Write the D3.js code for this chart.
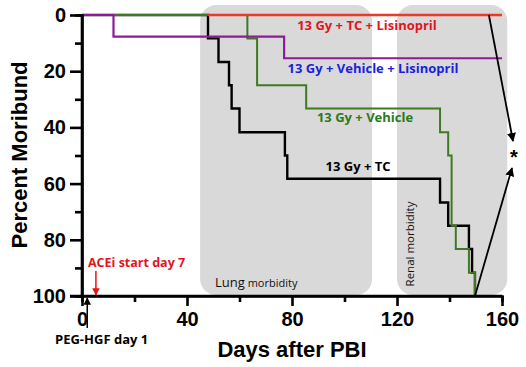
<!DOCTYPE html>
<html>
<head>
<meta charset="utf-8">
<script src="https://cdn.jsdelivr.net/npm/d3@7"></script>
<style>
  body { margin: 0; background: #fff; }
  svg { display: block; font-family: "Liberation Sans", Arial, sans-serif; }
</style>
</head>
<body>
<svg width="526" height="367"></svg>
<script>
// step curves: [day, percent moribund]
const tcLisinopril = [[48, 0], [160, 0]];
const vehicleLisinopril = [[0, 0], [12, 0], [12, 7.7], [77, 7.7], [77, 15.4], [160, 15.4]];
const vehicle = [[0, 0], [63, 0], [63, 8.33], [66.7, 8.33], [66.7, 25], [85.4, 25], [85.4, 33.3],
  [136.4, 33.3], [136.4, 41.7], [139.5, 41.7], [139.5, 50], [140.8, 50], [140.8, 75],
  [142.4, 75], [142.4, 83.3], [147.4, 83.3], [147.4, 91.7], [149.7, 91.7], [149.7, 100]];
const tc = [[0, 0], [48, 0], [48, 8.33], [52, 8.33], [52, 16.7], [56, 16.7], [56, 25], [57, 25], [57, 33.3],
  [60, 33.3], [60, 41.7], [77.3, 41.7], [77.3, 50], [78.2, 50], [78.2, 58.3], [136.4, 58.3], [136.4, 66.7],
  [139.5, 66.7], [139.5, 75], [147.4, 75], [147.4, 83.3], [148.6, 83.3], [148.6, 91.7], [149.7, 91.7], [149.7, 100]];

const xTicks = [0, 40, 80, 120, 160];
const xMinor = [20, 60, 100, 140];
const yTicks = [0, 20, 40, 60, 80, 100];
const yMinor = [10, 30, 50, 70, 90];

const zones = [
  {name: 'lung', from: 45, to: 110.5},
  {name: 'renal', from: 120, to: 162}
];

const svg = d3.select('svg');
const x = d3.scaleLinear().domain([0, 160]).range([82, 502]);
const y = d3.scaleLinear().domain([0, 100]).range([15, 296]);

// gray morbidity windows
svg.selectAll('rect.zone').data(zones).enter().append('rect')
  .attr('class', 'zone')
  .attr('x', d => x(d.from))
  .attr('width', d => x(d.to) - x(d.from))
  .attr('y', 5)
  .attr('height', 290)
  .attr('rx', 16)
  .attr('fill', '#d9d9d9');

svg.append('text').attr('x', 215).attr('y', 287)
  .attr('font-family', 'Open Sans, sans-serif').attr('fill', '#111')
  .html('<tspan font-size="13">Lung</tspan><tspan font-size="11"> morbidity</tspan>');
svg.append('text')
  .attr('transform', 'translate(414,244) rotate(-90)')
  .attr('text-anchor', 'middle')
  .attr('font-family', 'Open Sans, sans-serif').attr('font-size', 11.5).attr('fill', '#111')
  .text('Renal morbidity');

// curves
const line = d3.line().x(d => x(d[0])).y(d => y(d[1]));
const curves = [
  {data: tc, color: '#000', w: 2.4},
  {data: vehicle, color: '#3f7a22', w: 2},
  {data: vehicleLisinopril, color: '#8e1a9a', w: 2.2},
  {data: tcLisinopril, color: '#ec3b22', w: 2.4}
];
svg.selectAll('path.curve').data(curves).enter().append('path')
  .attr('class', 'curve')
  .attr('d', d => line(d.data))
  .attr('fill', 'none')
  .attr('stroke', d => d.color)
  .attr('stroke-width', d => d.w);

// axes
const yAxis = svg.append('g').attr('transform', 'translate(82,0)')
  .call(d3.axisLeft(y).tickValues(yTicks).tickSize(12).tickPadding(4));
const yAxisMinor = svg.append('g').attr('transform', 'translate(82,0)')
  .call(d3.axisLeft(y).tickValues(yMinor).tickSize(7).tickFormat(''));
const xAxis = svg.append('g').attr('transform', 'translate(0,296)')
  .call(d3.axisBottom(x).tickValues(xTicks).tickSize(10).tickPadding(6));
const xAxisMinor = svg.append('g').attr('transform', 'translate(0,296)')
  .call(d3.axisBottom(x).tickValues(xMinor).tickSize(6).tickFormat(''));

[yAxis, yAxisMinor, xAxis, xAxisMinor].forEach(g => {
  g.selectAll('.domain').attr('stroke-width', 2.6).attr('stroke', '#000');
  g.selectAll('line').attr('stroke-width', 2.6).attr('stroke', '#000');
  g.selectAll('text').attr('font-size', 20).attr('font-weight', 'bold')
    .attr('font-family', 'Liberation Sans, Arial, sans-serif').attr('fill', '#000');
});
xAxis.select('.domain').attr('d', 'M70,0H502');
yAxis.select('.domain').attr('d', 'M0,15V296');

svg.append('text').attr('x', 292).attr('y', 357).attr('text-anchor', 'middle')
  .attr('font-size', 22).attr('font-weight', 'bold').text('Days after PBI');
svg.append('text').attr('transform', 'translate(27,155) rotate(-90)').attr('text-anchor', 'middle')
  .attr('font-size', 22).attr('font-weight', 'bold').text('Percent Moribund');

// series labels
const labels = [
  {t: '13 Gy + TC + Lisinopril', c: '#e3141b', cx: 367, by: 30},
  {t: '13 Gy + Vehicle + Lisinopril', c: '#1c1ee0', cx: 373, by: 73},
  {t: '13 Gy + Vehicle', c: '#2b7a1c', cx: 365, by: 122},
  {t: '13 Gy + TC', c: '#000', cx: 358, by: 171}
];
svg.selectAll('text.lab').data(labels).enter().append('text')
  .attr('class', 'lab')
  .attr('x', d => d.cx).attr('y', d => d.by)
  .attr('text-anchor', 'middle')
  .attr('font-family', 'Open Sans, sans-serif')
  .attr('font-size', 13).attr('font-weight', 'bold')
  .attr('fill', d => d.c)
  .text(d => d.t);

// arrows
const defs = svg.append('defs');
[['ahBlack', '#000'], ['ahRed', '#e3141b']].forEach(([id, c]) => {
  defs.append('marker').attr('id', id).attr('viewBox', '0 0 10 10')
    .attr('refX', 9).attr('refY', 5).attr('markerWidth', 5).attr('markerHeight', 5)
    .attr('orient', 'auto')
    .append('path').attr('d', 'M0,0L10,5L0,10z').attr('fill', c);
});

svg.append('line').attr('x1', x(155)).attr('y1', y(0)).attr('x2', 513).attr('y2', 141)
  .attr('stroke', '#000').attr('stroke-width', 1.8).attr('marker-end', 'url(#ahBlack)');
svg.append('line').attr('x1', x(149.7)).attr('y1', y(100)).attr('x2', 512).attr('y2', 168)
  .attr('stroke', '#000').attr('stroke-width', 1.8).attr('marker-end', 'url(#ahBlack)');
svg.append('text').attr('x', 514).attr('y', 164).attr('text-anchor', 'middle')
  .attr('font-size', 20).attr('font-weight', 'bold').text('*');

svg.append('text').attr('x', 88).attr('y', 267)
  .attr('font-family', 'Open Sans, sans-serif').attr('font-size', 12.5).attr('font-weight', 'bold')
  .attr('fill', '#e3141b').text('ACEi start day 7');
svg.append('line').attr('x1', x(5.3)).attr('y1', 271).attr('x2', x(5.3)).attr('y2', 295)
  .attr('stroke', '#e3141b').attr('stroke-width', 1.5).attr('marker-end', 'url(#ahRed)');

svg.append('line').attr('x1', x(2)).attr('y1', 328).attr('x2', x(2)).attr('y2', 298)
  .attr('stroke', '#000').attr('stroke-width', 1.5).attr('marker-end', 'url(#ahBlack)');
svg.append('text').attr('x', 55).attr('y', 344)
  .attr('font-family', 'Open Sans, sans-serif').attr('font-size', 13).attr('font-weight', 'bold')
  .attr('fill', '#000').text('PEG-HGF day 1');
</script>
</body>
</html>
